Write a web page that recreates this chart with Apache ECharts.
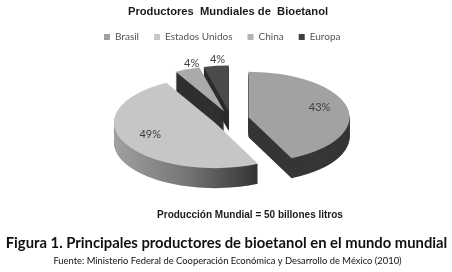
<!DOCTYPE html>
<html>
<head>
<meta charset="utf-8">
<script src="https://cdn.jsdelivr.net/npm/echarts@6/dist/echarts.min.js"></script>
<style>
html,body{margin:0;padding:0;background:#fff;}
#wrap{position:relative;width:452px;height:272px;overflow:hidden;background:#fff;}
#pie{position:absolute;left:0;width:452px;height:400px;transform-origin:0 0;}
#txt{position:absolute;left:0;top:0;width:452px;height:272px;}
</style>
</head>
<body>
<div id="wrap"><div id="pie"></div><div id="txt"></div></div>
<script>
// ---- data ----
const categories = ['Brasil', 'Estados Unidos', 'China', 'Europa'];
const values = [43, 49, 4, 4];
const chartTitle = 'Productores  Mundiales de  Bioetanol';
const note = 'Producción Mundial = 50 billones litros';
const figCaption = 'Figura 1. Principales productores de bioetanol en el mundo mundial';
const source = 'Fuente: Ministerio Federal de Cooperación Económica y Desarrollo de México (2010)';

// ---- styles ----
const topColors = ['#a2a2a2', '#c6c6c6', '#aaaaaa', '#4b4b4b'];
const legendColors = ['#a0a0a0', '#c8c8c8', '#b2b2b2', '#3e3e3e'];
const sideColors = [
  '#363636',
  {type:'linear', x:0, y:0, x2:1, y2:0, colorStops:[{offset:0,color:'#a0a0a0'},{offset:0.5,color:'#767676'},{offset:1,color:'#333333'}]},
  '#2f2f2f',
  '#2b2b2b'
];
const S = 0.45;          // vertical squash of the pie plane
const CX = 231, CYS = 119, CYD = 200, R = 101, OFF = 18, DEPTH = 20;
const STEP = 1 / S;      // one screen pixel in pie-plane units

const pieDiv = document.getElementById('pie');
pieDiv.style.top = (CYS - CYD * S) + 'px';
pieDiv.style.transform = 'scaleY(' + S + ')';

function pieData(colors) {
  return categories.map((c, i) => ({name: c, value: values[i], selected: true,
    itemStyle: {color: colors[i]}}));
}
function pieSeries(dy, colors) {
  return {
    type: 'pie', center: [CX, CYD + dy], radius: [0, R], startAngle: 90, clockwise: true,
    selectedMode: 'multiple', selectedOffset: OFF, silent: true, animation: false,
    label: {show: false}, labelLine: {show: false}, emphasis: {disabled: true},
    itemStyle: {borderWidth: 0}, data: pieData(colors)
  };
}
const series = [];
for (let k = DEPTH; k >= 1; k--) series.push(pieSeries(k * STEP, sideColors));
series.push(pieSeries(0, topColors));

const pie = echarts.init(pieDiv, null, {renderer: 'svg'});
pie.setOption({animation: false, series: series});

// ---- labels computed from data ----
const total = values.reduce((a, b) => a + b, 0);
let acc = 0;
const labelEls = values.map((v, i) => {
  const mid = (acc + v / 2) / total * 2 * Math.PI; acc += v;
  const dx = Math.sin(mid), dy = -Math.cos(mid);
  let x, y;
  if (v / total >= 0.1) {
    const d = 0.72 * R + OFF;
    x = CX + d * dx; y = CYS + d * dy * S - 3;
  } else {
    x = CX + (R + 6) * dx; y = CYS + ((R + OFF) * S + 6) * dy;
  }
  return {type: 'text', x: x, y: y, silent: true,
    style: {text: Math.round(v / total * 100) + '%', font: '11px Lato', fill: '#404040', align: 'center', verticalAlign: 'middle'}};
});

const txt = echarts.init(document.getElementById('txt'));
txt.setOption({
  animation: false,
  legend: {
    left: 104, top: 32, padding: 0, itemWidth: 6, itemHeight: 6, itemGap: 15, icon: 'rect',
    textStyle: {fontFamily: 'Lato', fontSize: 10, color: '#555'},
    data: categories, selectedMode: false
  },
  series: [{type: 'pie', radius: [0, 0], center: [-50, -50], silent: true, label: {show: false},
    data: categories.map((c, i) => ({name: c, value: values[i], itemStyle: {color: legendColors[i]}}))}],
  graphic: [
    {type: 'text', x: 228, y: 11.6, silent: true, style: {text: chartTitle, font: 'bold 11.2px "Liberation Sans", Arial', fill: '#1a1a1a', align: 'center', verticalAlign: 'middle'}},
    {type: 'text', x: 250, y: 215.5, silent: true, style: {text: note, font: 'bold 10px "Liberation Sans", Arial', fill: '#1a1a1a', align: 'center', verticalAlign: 'middle'}},
    {type: 'text', x: 226.5, y: 243, silent: true, style: {text: figCaption, font: 'bold 14.8px Lato', fill: '#111', align: 'center', verticalAlign: 'middle'}},
    {type: 'text', x: 227.5, y: 260.7, silent: true, style: {text: source, font: '9.4px Lato', fill: '#111', align: 'center', verticalAlign: 'middle'}}
  ].concat(labelEls)
});
</script>
</body>
</html>
